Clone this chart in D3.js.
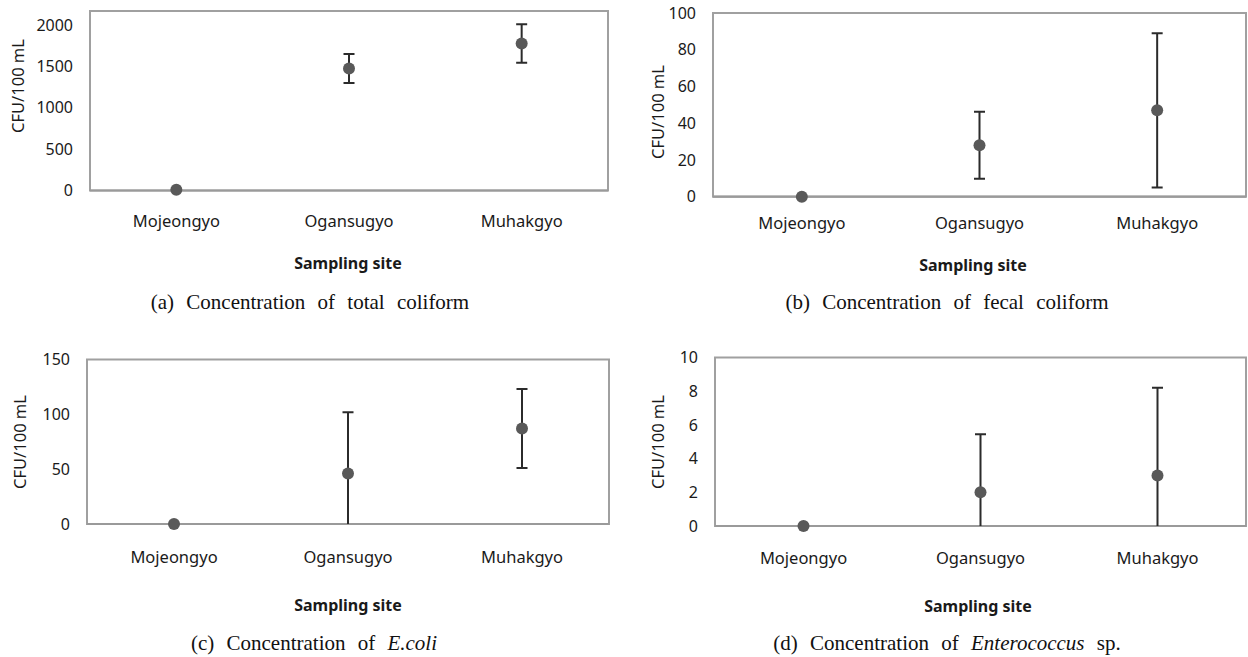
<!DOCTYPE html>
<html>
<head>
<meta charset="utf-8">
<script src="https://cdn.jsdelivr.net/npm/d3@7"></script>
<style>
  body { margin: 0; background: #fff; }
  svg { display: block; }
</style>
</head>
<body>
<div id="chart"></div>
<script>
// sampling sites (x categories, same for all four panels)
const sites = ['Mojeongyo', 'Ogansugyo', 'Muhakgyo'];

// (a) total coliform
const totalColiformMean = [8, 1475, 1777];
const totalColiformErr = [0, 175, 234];
const totalColiformTicks = [0, 500, 1000, 1500, 2000];

// (b) fecal coliform
const fecalColiformMean = [0, 28, 47];
const fecalColiformErr = [0, 18.2, 42];
const fecalColiformTicks = [0, 20, 40, 60, 80, 100];

// (c) E.coli
const ecoliMean = [0, 46, 87];
const ecoliErr = [0, 56, 36];
const ecoliTicks = [0, 50, 100, 150];

// (d) Enterococcus sp.
const enteroMean = [0, 2, 3];
const enteroErr = [0, 3.45, 5.2];
const enteroTicks = [0, 2, 4, 6, 8, 10];

const W = 1248, H = 657;
const sans = "'Noto Sans', 'DejaVu Sans', sans-serif";
const serif = "'Liberation Serif', 'DejaVu Serif', serif";

const svg = d3.select('#chart').append('svg')
  .attr('width', W)
  .attr('height', H);

// panel boxes and text placement
const panels = [
  { id: 'a', mean: totalColiformMean, err: totalColiformErr, ticks: totalColiformTicks, yMax: 2170,
    left: 90, right: 608, top: 11, bottom: 190.5, catY: 226, titleX: 18, titleY: 86,
    siteX: 348, siteY: 263, capX: 310, capY: 302,
    caption: [['(a) Concentration of total coliform', false]] },
  { id: 'b', mean: fecalColiformMean, err: fecalColiformErr, ticks: fecalColiformTicks, yMax: 100,
    left: 713, right: 1246, top: 13, bottom: 196.7, catY: 228, titleX: 658, titleY: 112,
    siteX: 973, siteY: 265, capX: 947, capY: 302,
    caption: [['(b) Concentration of fecal coliform', false]] },
  { id: 'c', mean: ecoliMean, err: ecoliErr, ticks: ecoliTicks, yMax: 150,
    left: 87, right: 609, top: 359.5, bottom: 524, catY: 562, titleX: 20, titleY: 442,
    siteX: 348, siteY: 605, capX: 314, capY: 643,
    caption: [['(c) Concentration of ', false], ['E.coli', true]] },
  { id: 'd', mean: enteroMean, err: enteroErr, ticks: enteroTicks, yMax: 10,
    left: 715, right: 1246, top: 357.5, bottom: 526, catY: 563, titleX: 658, titleY: 442,
    siteX: 978, siteY: 606, capX: 947, capY: 643,
    caption: [['(d) Concentration of ', false], ['Enterococcus', true], [' sp.', false]] }
];

panels.forEach(p => {
  const x = d3.scaleBand().domain(sites).range([p.left, p.right]).padding(0);
  const y = d3.scaleLinear().domain([0, p.yMax]).range([p.bottom, p.top]);
  const cx = s => x(s) + x.bandwidth() / 2;

  const g = svg.append('g').attr('class', 'panel-' + p.id);

  // clip error bars to the plot area
  g.append('clipPath').attr('id', 'clip-' + p.id)
    .append('rect')
    .attr('x', p.left).attr('y', p.top)
    .attr('width', p.right - p.left).attr('height', p.bottom - p.top);

  // plot frame
  g.append('rect')
    .attr('x', p.left).attr('y', p.top)
    .attr('width', p.right - p.left).attr('height', p.bottom - p.top)
    .attr('fill', 'none')
    .attr('stroke', '#a0a0a0')
    .attr('stroke-width', 2);

  // zero line
  g.append('line')
    .attr('x1', p.left).attr('x2', p.right)
    .attr('y1', y(0)).attr('y2', y(0))
    .attr('stroke', '#9a9a9a')
    .attr('stroke-width', 2.2);

  // y axis labels
  const yAxis = d3.axisLeft(y).tickValues(p.ticks).tickFormat(d3.format('d'))
    .tickSize(0).tickPadding(17);
  const ya = g.append('g')
    .attr('transform', `translate(${p.left},0)`)
    .call(yAxis);
  ya.select('.domain').remove();
  ya.selectAll('text')
    .attr('font-family', sans)
    .attr('font-size', 16)
    .attr('fill', '#1a1a1a');

  // x category labels
  const xAxis = d3.axisBottom(x).tickSize(0).tickPadding(p.catY - p.bottom - 11);
  const xa = g.append('g')
    .attr('transform', `translate(0,${p.bottom})`)
    .call(xAxis);
  xa.select('.domain').remove();
  xa.selectAll('text')
    .attr('font-family', sans)
    .attr('font-size', 16.5)
    .attr('fill', '#1a1a1a');

  const pts = sites.map((s, i) => ({ site: s, v: p.mean[i], e: p.err[i] }));

  // error bars
  const eb = g.append('g').attr('clip-path', `url(#clip-${p.id})`)
    .selectAll('g')
    .data(pts.filter(d => d.e > 0))
    .join('g')
    .attr('stroke', '#2b2b2b')
    .attr('stroke-width', 2);
  eb.append('line')
    .attr('x1', d => cx(d.site)).attr('x2', d => cx(d.site))
    .attr('y1', d => y(d.v + d.e)).attr('y2', d => y(d.v - d.e));
  eb.append('line')
    .attr('x1', d => cx(d.site) - 5.5).attr('x2', d => cx(d.site) + 5.5)
    .attr('y1', d => y(d.v + d.e)).attr('y2', d => y(d.v + d.e));
  eb.append('line')
    .attr('x1', d => cx(d.site) - 5.5).attr('x2', d => cx(d.site) + 5.5)
    .attr('y1', d => y(d.v - d.e)).attr('y2', d => y(d.v - d.e));

  // markers
  g.append('g')
    .selectAll('circle')
    .data(pts)
    .join('circle')
    .attr('cx', d => cx(d.site))
    .attr('cy', d => y(d.v))
    .attr('r', 6)
    .attr('fill', '#595959');

  // y axis title
  g.append('text')
    .attr('transform', `translate(${p.titleX},${p.titleY}) rotate(-90)`)
    .attr('text-anchor', 'middle')
    .attr('dy', '0.35em')
    .attr('font-family', sans)
    .attr('font-size', 16.5)
    .attr('fill', '#1a1a1a')
    .text('CFU/100 mL');

  // x axis title
  g.append('text')
    .attr('x', p.siteX).attr('y', p.siteY)
    .attr('text-anchor', 'middle')
    .attr('dy', '0.35em')
    .attr('font-family', sans)
    .attr('font-weight', 'bold')
    .attr('font-size', 16)
    .attr('fill', '#1a1a1a')
    .text('Sampling site');

  // caption under the panel
  const cap = g.append('text')
    .attr('x', p.capX).attr('y', p.capY)
    .attr('text-anchor', 'middle')
    .attr('dy', '0.35em')
    .attr('font-family', serif)
    .attr('font-size', 21)
    .attr('word-spacing', 7)
    .attr('fill', '#111')
    .style('white-space', 'pre');
  p.caption.forEach(([t, it]) => {
    cap.append('tspan')
      .attr('font-style', it ? 'italic' : 'normal')
      .text(t);
  });
});
</script>
</body>
</html>
